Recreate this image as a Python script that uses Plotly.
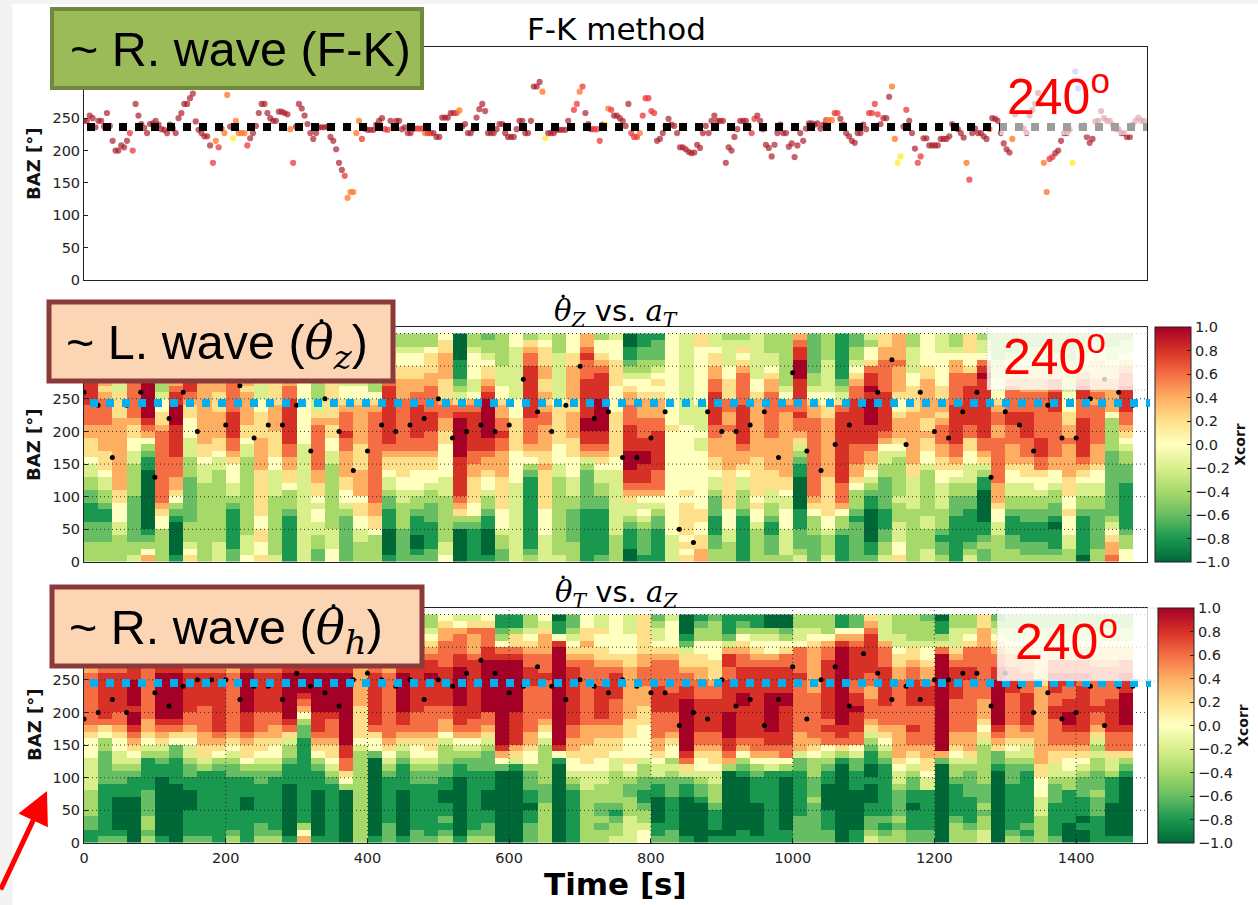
import plotly.graph_objects as go

W, H = 1258, 905

# F-K back azimuth (two halves, left to right)
FK_BAZ_A = [246,246,254,250,236,246,246,237,258,238,215,200,200,208,205,215,227,200,272,254,241,235,227,241,242,246,240,233,232,227,240,234,227,250,258,272,272,281,288,245,232,227,222,222,208,181,215,205,234,227,286,237,219,246,227,227,227,208,219,227,238,258,272,272,258,250,246,246,260,260,258,256,233,181,237,272,265,254,241,227,218,227,236,236,236,237,221,215,202,181,170,161,127,136,136,227,246,218,234,232,232,232,240,246,250,233,232,246,237,246,246,233,236,227,227,234,234,234,234,227,227,227,227,221,221,251,251,251,258,258,258,262,237,241,227,227,234,251,264,272,261,227,227,227,233,241,241,227,221,221,221,233,246,246,227,227,246,299,299,306,291,219,227,227,227,232,232,232,232,246,237,263,272,291,299,258,241,233,233,233,215,240,240,265,263,254]
FK_BAZ_B = [254,250,246,238,272,227,221,221,227,254,281,281,261,258,215,218,227,238,249,240,238,227,205,205,202,198,196,197,209,204,227,238,227,246,254,246,246,246,181,205,200,221,233,246,246,246,237,227,249,254,246,233,209,204,191,209,227,240,227,227,206,211,190,208,227,215,234,242,242,240,242,234,240,247,247,247,258,258,249,240,227,222,215,212,227,227,240,233,258,258,272,256,241,250,250,283,299,218,181,191,237,263,246,227,203,181,191,219,219,208,208,208,208,218,218,218,222,241,237,233,227,220,181,155,227,234,227,227,222,218,233,250,249,246,227,211,202,197,218,256,237,237,234,227,254,263,272,289,272,181,136,187,190,196,200,215,227,227,232,181,322,296,237,239,221,212,218,245,246,261,250,246,246,240,233,233,227,227,221,221,240,246,251,246,246]

# Points in each half that are not the usual dark red
FK_RED_A = [16,17,45,47,48,57,73,91,97,105,106,116,117,118,120,121,130,171,172,174,178,179,180,184]
FK_ORANGE_A = [46,49,50,53,54,55,56,72,92,93,94,95,96,119,131,160,173,183]
FK_YELLOW_A = [52,161,182]
FK_RED_B = [5,6,7,9,10,11,12,13,47,48,73,76,77,88,89,90,91,101,105,106,123,151,152]
FK_ORANGE_B = [8,74,75,96,97,122,130,138,149,150]
FK_YELLOW_B = [98,99,159]
FK_BLUE_B = [160,161]

# Peak-correlation BAZ per 20 s window
DOTS_Z = [260,240,160,240,260,130,220,260,200,290,210,270,190,210,210,240,170,250,200,140,170,210,200,210,220,250,190,200,210,200,210,280,230,200,240,300,220,230,160,160,190,230,50,30,230,200,200,210,230,160,290,170,140,180,210,240,260,310,180,260,200,190,230,260,130,230,210,170,240,190,190,250,280,260,240]
DOTS_T = [190,200,220,200,280,230,210,240,250,250,250,220,240,240,220,260,240,230,210,250,260,250,240,250,220,250,240,260,280,260,230,240,270,240,220,250,240,230,250,240,230,230,180,200,190,250,210,220,180,220,270,190,250,270,210,290,260,220,240,220,250,250,260,260,210,260,240,200,230,190,200,240,180,240,240]

# Xcorr cells per column, bottom row first: 0=-1.0, 1=-0.8 ... 5=0.0 ... 9=0.8, A=1.0
XCORR_Z = [
"33322 21112 23344 56667 78889 99999 98765","33322 21123 34456 66777 78888 76775 54433",
"33334 45556 67777 77777 77666 64443 33333","43322 22222 33333 44556 67888 88888 87654",
"75321 00000 00001 12357 89AAA AAAA9 87654","33333 55678 88888 88888 76655 43333 33333",
"10000 01235 67788 89999 9AAA9 98777 65544","65433 32222 22233 34445 55667 89987 65544",
"33333 33333 33444 56677 77777 77777 66554","44433 33333 33334 45667 77766 67777 66554",
"22111 11123 44555 67889 99988 88877 66554","54443 33333 33333 34456 67777 76777 66554",
"65566 55666 66667 77776 66655 44433 33333","43333 33333 44445 56666 77776 66677 66554",
"11111 11233 35667 78899 99999 88777 66554","44444 44444 44444 44455 55555 55555 45554",
"22334 45545 66778 88888 87644 33333 33333","55444 33333 33333 44556 67666 66677 66554",
"22222 22345 56677 77889 88876 55444 33333","33344 55665 77776 66677 77776 55433 33333",
"33335 66778 88888 88888 88876 53333 33333","10000 11122 34456 67899 99999 99865 54433",
"22222 33334 45566 67888 88888 77766 55433","21001 11233 45556 67889 99998 87766 55433",
"22111 12223 34556 67888 99988 88776 66533","54433 33333 44455 55566 77887 66677 77665",
"00000 23678 99999 9AAAA AA986 43211 10000","11111 23556 66677 88999 99987 54455 55433",
"10000 11233 45567 7899A AAAAA 98766 54332","22334 55566 66677 77889 88776 55444 33333",
"44444 44444 44555 55666 66555 44444 44455","32111 11111 11123 56788 88999 99999 88763",
"44445 55566 66667 66777 78876 76677 66654","43333 33333 33344 55566 66665 44444 44333",
"33322 22233 44455 56667 77766 77777 66555","11111 11122 22223 47899 AA999 99988 89877",
"21111 11122 33445 67899 AAAAA 99998 76553","33334 44444 44445 56666 66655 55666 65554",
"00111 23446 7899A AA999 98887 76543 21100","12222 34545 78999 AA998 88777 65543 32211",
"11111 22345 78889 99999 88777 65654 32221","44445 55555 55555 55555 65555 55555 55555",
"65656 66665 65555 55555 54444 44444 44444","77665 56655 55555 55445 44445 55555 55566",
"33221 11222 34456 67778 89999 98877 66544","33344 55566 66667 77777 87788 66655 44443",
"11111 11233 34456 77899 99998 88887 65643","33333 45565 66666 67777 77777 65544 44444",
"32221 12334 46667 77778 88888 87765 44333","34444 55544 56677 77777 77787 54333 33333",
"43222 11100 00011 23467 88988 999AA A9987","22223 33567 88888 88888 88776 54332 22222",
"43334 55666 66677 77777 77665 54444 43333","11112 33578 88999 99999 99986 43211 11111",
"22222 21233 35677 88899 99999 88765 43322","21100 00011 23456 77899 9AAAA 9A998 65534",
"43322 11122 22233 44578 99999 98888 87766","65544 43334 33333 34567 77655 67777 87777",
"33333 33344 44466 77777 77766 66554 44433","44333 44333 33334 55667 66777 77766 55555",
"32212 33344 44556 67788 87677 66555 55444","11111 11222 33456 78899 99998 88887 75433",
"43211 11122 33444 55668 89999 99886 55666","22321 10000 01134 67889 99999 999A9 85443",
"33334 45567 77888 88887 78876 55544 43333","33221 11233 44556 77788 89988 88766 54333",
"32211 12233 44566 78889 99988 87766 54433","32211 12233 45568 89998 88888 87766 54433",
"32111 01223 34557 78888 88899 98866 54333","33445 55655 66677 77787 76655 54444 43333",
"01111 11233 44567 89999 99888 99876 55443","33222 22233 44556 77788 88887 87766 65544",
"87765 43222 22222 22333 33577 77766 54433","55332 11111 11222 33456 78899 99887 65443",
]
XCORR_T = [
"11223 33344 44455 56788 88888 87654 54444","21111 11112 22223 35689 99999 98765 54444",
"21000 00112 23445 56788 99999 98765 54444","00000 00111 23456 789AA 9AAAA 99876 54444",
"32332 22211 11134 56778 88888 88765 54444","10000 00000 11234 6789A AAAAA A9876 54444",
"00000 00001 11122 5689A AAAAA A9876 54444","21111 00011 22344 56788 99999 98765 54444",
"21111 11111 13466 77888 89999 98765 54444","11111 11111 12356 78999 99999 98765 54444",
"32111 11111 22345 67888 88888 87654 54444","11111 00111 23566 78999 AAAAA A9876 54444",
"32211 11112 23456 67888 99999 98765 54444","32111 11111 23455 67788 99999 98765 54444",
"10000 00001 11233 4689A AAAAA A9876 54444","75311 11111 11111 12235 789AA A9876 54444",
"10000 00011 12356 78999 AAAAA A9876 54444","11111 11112 34566 78889 AAAAA A9876 54444",
"00000 00035 68899 AAAAA AAAAA A9876 54444","33333 33333 33334 56666 67777 77665 54444",
"10000 00000 00025 56899 99999 98765 54444","22211 11111 23456 78888 88888 87654 44444",
"10000 00011 11234 67899 AAAAA A9876 54444","22111 11112 23455 67888 99999 99876 54444",
"21111 11112 23456 67888 89999 A9987 65433","32121 10011 22333 45778 89999 99888 87765",
"10000 00000 11234 57899 9AAAA AA998 88754","32111 11111 12234 57889 99999 99987 77864",
"32211 00011 12223 46788 AAAAA AAA99 88865","00000 00000 02579 AAAAA AAAAA AAA98 53211",
"00000 00000 01467 99999 AAAAA AAA98 66311","22211 01122 23556 77888 88889 99887 65433",
"33333 32223 33333 45678 88888 98887 77645","00000 00000 00159 AAAAA AAAAA AAAAA 95110",
"11111 11123 45567 78899 99999 99876 54322","33333 33344 45666 77788 88888 88876 76655",
"33232 23334 45566 67789 99998 88766 55644","43321 23333 34456 67788 88999 98765 55555",
"44443 33223 45655 56667 77777 77665 55444","55433 21122 33455 55566 67778 88776 66666",
"21100 00112 44567 78888 99998 88876 54432","22111 11222 34355 67888 99988 88876 55554",
"10000 00112 4689A AAAAA AA998 87664 21000","00000 01223 45567 88999 99888 77665 53321",
"10111 23334 45667 88999 99887 66655 53332","10000 00000 03789 9AAAA 99999 88997 42111",
"11000 00000 12357 89999 9AA99 99887 65321","10000 01111 23578 89999 99999 99876 54311",
"11111 11111 14578 99AAA AAA99 99875 54300","11000 00000 13588 99999 9AA99 99886 53200",
"22221 11111 12247 77888 88888 98888 54433","22222 23222 33356 78888 88877 77777 65433",
"22111 00001 12345 88989 99999 99988 75333","00000 00000 00136 899AA AAAAA AAAAA 97511",
"11000 00011 12245 88999 A9988 99999 87522","43221 10001 00112 34678 88778 89999 99876",
"32121 11111 11234 56788 89999 99888 74444","33232 22234 45677 77788 88888 77665 44333",
"22111 01122 34567 88988 89999 88766 43333","22111 11144 56677 88888 89998 77655 43332",
"00000 00000 0027A AAAAA AAAAA AAAA8 43110","33321 11112 33456 77888 88999 99876 44433",
"33211 11222 23467 77888 88888 99888 65433","44332 32223 33333 46567 77888 88888 77766",
"00000 00000 01226 789AA AAAAA 99887 65432","32111 11112 22345 67788 88899 88776 54433",
"21211 11111 12344 67899 99988 87766 54433","33334 44555 66777 77777 77776 66665 54433",
"21111 12223 44667 88889 98899 98866 54433","00011 11133 45567 889AA 99889 98866 54433",
"00101 11222 34567 88999 99998 98866 54433","11112 22322 23343 46788 98888 88766 54433",
"10000 01111 34468 88999 99888 88766 54433","10000 00000 12368 889AA AAA99 98866 54433",
]
BAZ_TICKS = [0, 50, 100, 150, 200, 250, 300, 350]
BAZ_LABELS = ["0", "50", "100", "150", "200", "250", "", ""]
TIME_TICKS = [0, 200, 400, 600, 800, 1000, 1200, 1400]
XCORR_TICKS = [-1.0, -0.8, -0.6, -0.4, -0.2, 0.0, 0.2, 0.4, 0.6, 0.8, 1.0]
RDYLGN_R = ["#006837","#1a9850","#66bd63","#a6d96a","#d9ef8b","#ffffbf","#fee08b","#fdae61","#f46d43","#d73027","#a50026"]
PAL = {"d":"rgba(170,25,38,0.68)","r":"rgba(238,55,55,0.75)","o":"rgba(255,125,45,0.8)","y":"rgba(255,238,50,0.8)","b":"rgba(110,110,255,0.65)"}

def to_rows(cols):
    cols = [c.replace(" ", "") for c in cols]
    return [[-1 + 0.2 * int(c[r], 11) for c in cols] for r in range(35)]

def px(x): return x / W
def py(y): return 1 - y / H

codes = ["d"] * len(FK_BAZ_A) + ["d"] * len(FK_BAZ_B)
na = len(FK_BAZ_A)
for lst, c, off in [(FK_RED_A,"r",0),(FK_ORANGE_A,"o",0),(FK_YELLOW_A,"y",0),(FK_RED_B,"r",na),(FK_ORANGE_B,"o",na),(FK_YELLOW_B,"y",na),(FK_BLUE_B,"b",na)]:
    for i in lst:
        codes[i + off] = c
fk_baz = FK_BAZ_A + FK_BAZ_B
fk_t = [i * 1500 / len(fk_baz) for i in range(len(fk_baz))]

fig = go.Figure()
fig.add_trace(go.Scatter(x=fk_t, y=fk_baz, mode="markers", xaxis="x", yaxis="y", showlegend=False,
                         marker=dict(size=6.2, color=[PAL[c] for c in codes], line=dict(width=0))))

CS = [[i / 10, c] for i, c in enumerate(RDYLGN_R)]
def cbar(left, top, bottom):
    return dict(x=px(left), xanchor="left", xpad=0, ypad=0, y=py((top + bottom) / 2), yanchor="middle",
                len=(bottom - top) / H, thickness=36, outlinecolor="#222", outlinewidth=1,
                tickmode="array", tickvals=XCORR_TICKS, tickformat=".1f", ticks="inside", ticklen=4, tickcolor="#222",
                tickfont=dict(family="DejaVu Sans", size=14.5, color="#222"),
                title=dict(text="<b>Xcorr</b>", side="right", font=dict(family="DejaVu Sans", size=14, color="#111")))

for rows, dots, xa, ya, cb in [(XCORR_Z, DOTS_Z, "x2", "y2", cbar(1155, 327, 562)), (XCORR_T, DOTS_T, "x3", "y3", cbar(1158, 608, 843))]:
    fig.add_trace(go.Heatmap(z=to_rows(rows), x0=10, dx=20, y0=5, dy=10, zmin=-1, zmax=1, colorscale=CS,
                             xaxis=xa, yaxis=ya, colorbar=cb, hoverinfo="skip"))
    fig.add_trace(go.Scatter(x=[20 * i for i in range(len(dots))], y=dots, mode="markers", xaxis=xa, yaxis=ya,
                             showlegend=False, marker=dict(size=5, color="black")))

AX = dict(showline=True, mirror=True, linecolor="#222", linewidth=1, showgrid=False, zeroline=False)
def xaxis(anchor, labels, ticks):
    return dict(AX, domain=[px(84), px(1147)], range=[0, 1500], anchor=anchor, tickmode="array", tickvals=TIME_TICKS,
                ticks="inside" if ticks else "", ticklen=4, tickcolor="#222", showticklabels=labels, ticklabelstandoff=2,
                tickfont=dict(family="DejaVu Sans", size=14.5, color="#222"))
def yaxis(anchor, top, bottom):
    return dict(AX, domain=[py(bottom), py(top)], range=[0, 360], anchor=anchor, tickmode="array", tickvals=BAZ_TICKS,
                ticktext=BAZ_LABELS, ticks="inside", ticklen=4, tickcolor="#222", showticklabels=True,
                tickfont=dict(family="DejaVu Sans", size=14.5, color="#222"))

shapes = []
def rect(x0, y0, x1, y1, fill, line=None, lw=0, opacity=1):
    shapes.append(dict(type="rect", xref="paper", yref="paper", x0=px(x0), x1=px(x1), y0=py(y0), y1=py(y1),
                       fillcolor=fill, opacity=opacity, line=dict(color=line or fill, width=lw), layer="above"))
def hdash(x0, x1, y, color):
    shapes.append(dict(type="line", xref="paper", yref="paper", x0=px(x0), x1=px(x1), y0=py(y), y1=py(y),
                       line=dict(color=color, width=8, dash="8px,8px"), layer="above"))
def dotted_frame(x0, y0, x1, y1):
    shapes.append(dict(type="rect", xref="paper", yref="paper", x0=px(x0), x1=px(x1), y0=py(y0), y1=py(y1),
                       fillcolor="rgba(0,0,0,0)", line=dict(color="#aaaaaa", width=0.8, dash="1px,2px"), layer="above"))

# dotted grids of the two lower panels
for v in BAZ_TICKS[1:]:
    for xr, yr in [("x2", "y2"), ("x3", "y3")]:
        shapes.append(dict(type="line", xref=xr + " domain", yref=yr, x0=0, x1=1, y0=v, y1=v,
                           line=dict(color="#222", width=0.9, dash="1px,3px"), layer="above"))
for v in TIME_TICKS[1:]:
    shapes.append(dict(type="line", xref="x3", yref="y3 domain", x0=v, x1=v, y0=0, y1=1,
                       line=dict(color="#222", width=0.9, dash="1px,3px"), layer="above"))

hdash(87, 1148, 127, "#000000")
hdash(90, 1150, 403, "#00b0f0")
hdash(90, 1151, 683, "#00b0f0")

# pale boxes behind the 240 labels
rect(1000, 47, 1147, 135, "#ffffff", opacity=0.62)
rect(987, 327, 1147, 390, "#ffffff", opacity=0.78)
rect(997, 608, 1158, 681, "#ffffff", opacity=0.78)
dotted_frame(987, 327, 1147, 390)
dotted_frame(997, 608, 1158, 681)

# label boxes
rect(52, 9, 422, 88, "#9bbb59", "#71893f", 4)
rect(49, 302, 393, 381, "#fcd5b5", "#8b3a3a", 5)
rect(52, 587, 422, 666, "#fcd5b5", "#8b3a3a", 5)

# page margin
rect(0, 0, 12.5, 905, "#f3f3f1")
rect(0, 0, 1258, 4, "#f3f3f1")

annos = []
def txt(x, y, s, size, color="#000000", fam="Liberation Sans", angle=0, anchor="center"):
    annos.append(dict(xref="paper", yref="paper", x=px(x), y=py(y), text=s, showarrow=False, xanchor=anchor, yanchor="middle",
                      textangle=angle, font=dict(family=fam, size=size, color=color)))
MATH = 'font-family:DejaVu Serif;font-style:italic'
txt(240, 49, "~ R. wave (F-K)", 48.5)
txt(216.5, 345, f'~ L. wave (<span style="{MATH}">θ</span><sub><span style="{MATH}">z</span></sub>)', 48.5)
txt(226, 630, f'~ R. wave (<span style="{MATH}">θ</span><sub><span style="{MATH}">h</span></sub>)', 48.5)
txt(616, 29, "F-K method", 31, fam="DejaVu Sans")
txt(616, 313, f'<span style="{MATH}">θ</span><sub><span style="{MATH}">Z</span></sub> vs. <span style="{MATH}">a</span><sub><span style="{MATH}">T</span></sub>', 29, fam="DejaVu Sans")
txt(616, 594, f'<span style="{MATH}">θ</span><sub><span style="{MATH}">T</span></sub> vs. <span style="{MATH}">a</span><sub><span style="{MATH}">Z</span></sub>', 29, fam="DejaVu Sans")
# the time-derivative dots over each theta
for x, y, s in [(321, 321, 14), (333, 606, 14), (563, 297, 12), (563, 578, 12)]:
    txt(x, y, "•", s)
for x, y in [(1058, 93), (1054, 353), (1066, 638)]:
    txt(x, y, "240<sup>o</sup>", 50, color="#ff0000")
for x, y in [(34, 164), (34, 445), (34, 725)]:
    txt(x, y, "<b>BAZ [°]</b>", 18, color="#111", fam="DejaVu Sans", angle=-90)
txt(615, 884, "<b>Time [s]</b>", 31, fam="DejaVu Sans")
annos.append(dict(xref="paper", yref="paper", x=px(47), y=py(791), ax=-50, ay=100, axref="pixel", ayref="pixel", text="",
                  showarrow=True, arrowhead=2, arrowsize=1.3, arrowwidth=5, arrowcolor="#ff0000"))

fig.update_layout(width=W, height=H, margin=dict(l=0, r=0, t=0, b=0, autoexpand=False), paper_bgcolor="white", plot_bgcolor="white",
                  showlegend=False, shapes=shapes, annotations=annos,
                  xaxis=xaxis("y", False, False), yaxis=yaxis("x", 47, 280),
                  xaxis2=xaxis("y2", False, False), yaxis2=yaxis("x2", 327, 562),
                  xaxis3=xaxis("y3", True, True), yaxis3=yaxis("x3", 608, 843))

fig.write_html("out.html", config={"displayModeBar": False}, post_script="document.body.style.margin='0';document.body.style.overflow='hidden';")
